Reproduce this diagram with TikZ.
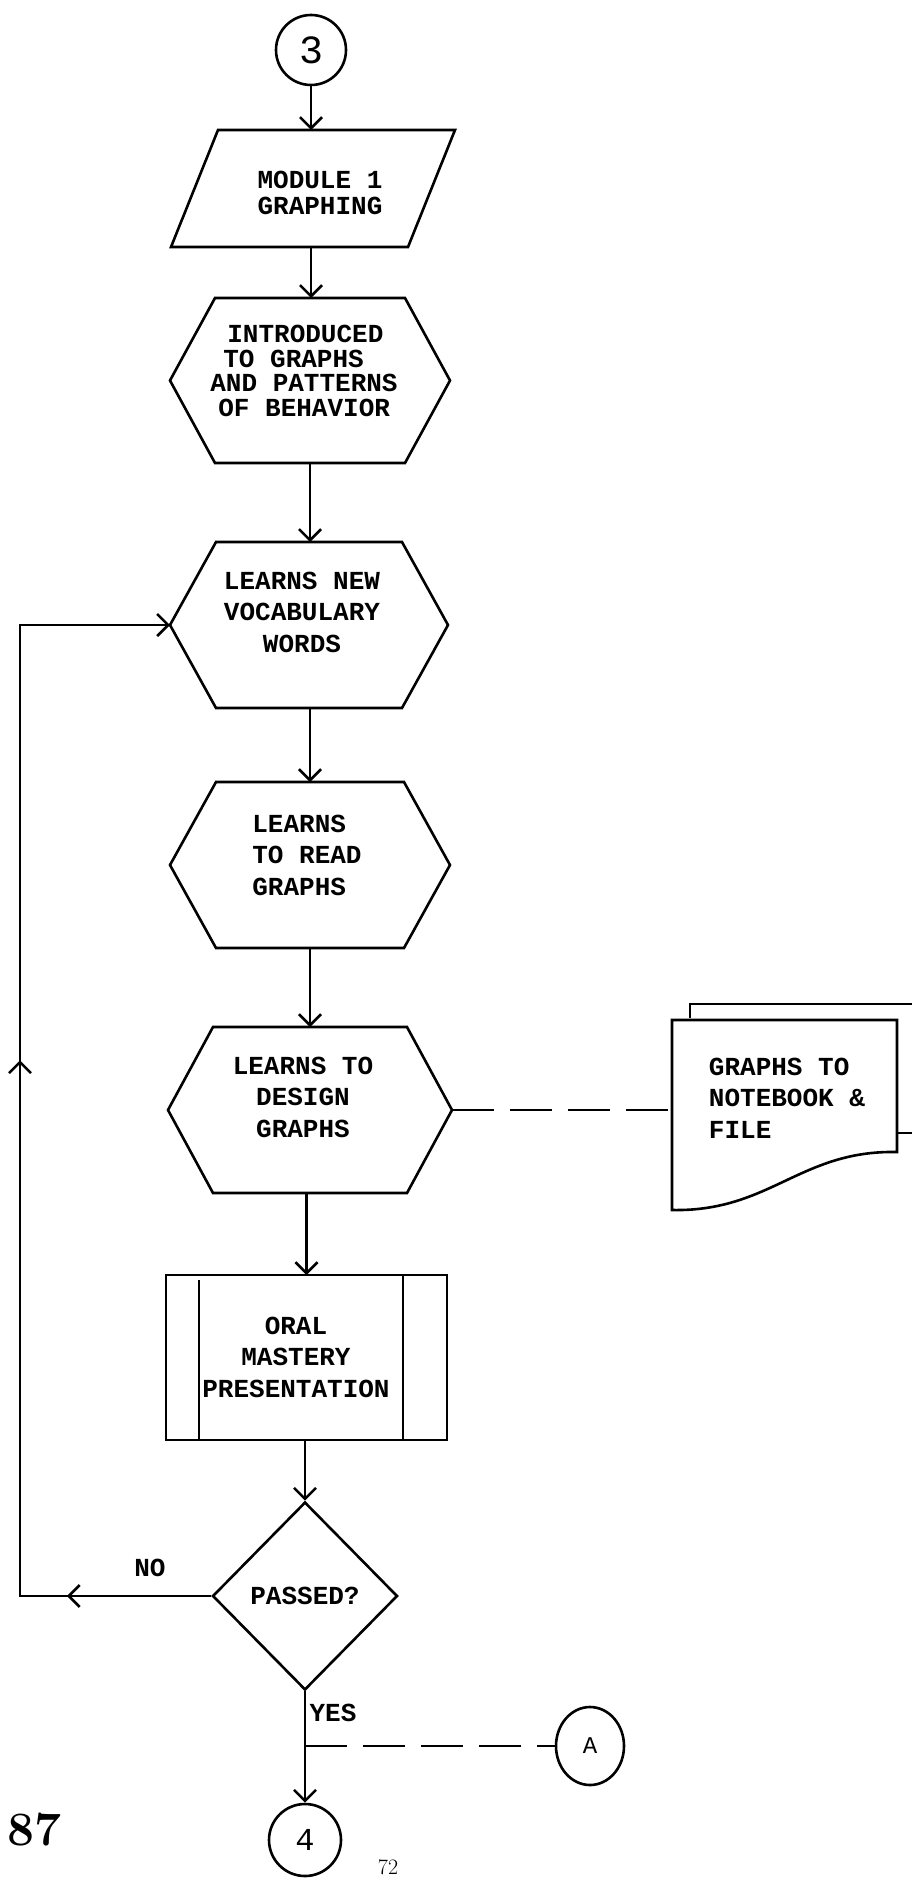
\documentclass[tikz,border=0pt]{standalone}
\usepackage{fontspec}
\setmonofont{Liberation Mono}
\usetikzlibrary{arrows.meta,shapes.geometric,decorations.markings,calc}
\tikzset{
  ln/.style={line width=2.6pt},
  tipstyle/.tip={Straight Barb[length=11pt,width=22pt]},
  arr/.style={ln,-tipstyle},
  frame/.style={draw=none,inner sep=0pt,outer sep=0pt},
  txt/.style={font=\ttfamily\bfseries\fontsize{26}{31.5}\selectfont,inner sep=0pt},
  conn/.style={draw,ln,inner sep=0pt,font=\ttfamily\bfseries\fontsize{26}{30}\selectfont},
  dashline/.style={line width=2pt,dash pattern=on 42pt off 16pt},
}
\newcommand{\hexframe}[2]{%
  \draw[ln] ([xshift=#2]#1.north west) -- ([xshift=-#2]#1.north east) -- (#1.east)
    -- ([xshift=-#2]#1.south east) -- ([xshift=#2]#1.south west) -- (#1.west) -- cycle;}
\begin{document}
\begin{tikzpicture}[x=1pt,y=-1pt]
\fill[white] (0,0) rectangle (911,1878);
\useasboundingbox (0,0) rectangle (911,1878);

% connector 3
\node[conn,circle,minimum size=70pt,font=\ttfamily\fontsize{40}{44}\selectfont] (c3) at (311,50) {3};

% module parallelogram
\node[frame,minimum width=284pt,minimum height=117pt] (mod) at (313,188.5) {};
\draw[ln] ([xshift=47pt]mod.north west) -- (mod.north east) -- ([xshift=-47pt]mod.south east) -- (mod.south west) -- cycle;
\node[txt,align=center,font=\ttfamily\bfseries\fontsize{26}{25.5}\selectfont] (modt) at (320,193) {MODULE 1\\GRAPHING};

% hexagon 1
\node[frame,minimum width=280pt,minimum height=165pt] (h1) at (310,380.5) {};
\hexframe{h1}{45pt}
\node[txt,align=left,font=\ttfamily\bfseries\fontsize{26}{24.5}\selectfont] (h1t) at (304,371)
  {\hspace*{17pt}INTRODUCED\\\hspace*{13pt}TO GRAPHS\\AND PATTERNS\\\hspace*{8pt}OF BEHAVIOR};

% hexagon 2
\node[frame,minimum width=278pt,minimum height=166pt] (h2) at (309,625) {};
\hexframe{h2}{46pt}
\node[txt,align=center] (h2t) at (302,612) {LEARNS NEW\\VOCABULARY\\WORDS};

% hexagon 3
\node[frame,minimum width=280pt,minimum height=166pt] (h3) at (310,865) {};
\hexframe{h3}{46pt}
\node[txt,align=left] (h3t) at (307,855) {LEARNS\\TO READ\\GRAPHS};

% hexagon 4
\node[frame,minimum width=284pt,minimum height=166pt] (h4) at (310,1110) {};
\hexframe{h4}{45pt}
\node[txt,align=center] (h4t) at (303,1097) {LEARNS TO\\DESIGN\\GRAPHS};

% document
\node[frame,minimum width=225pt,minimum height=190pt] (doc) at (784.5,1115) {};
\draw[ln] ($(doc.north west)+(18,-2)$) -- ($(doc.north west)+(18,-16)$) -- ($(doc.north east)+(40,-16)$);
\draw[ln] ($(doc.east)+(0,18)$) -- ($(doc.east)+(40,18)$);
\draw[ln,fill=white] (doc.north west) -- (doc.north east) -- ($(doc.south east)+(0,-58)$)
  .. controls ($(doc.south east)+(-97,-60)$) and ($(doc.south west)+(98,2)$) .. (doc.south west) -- cycle;
\node[txt,align=left] (doct) at (787,1098) {GRAPHS TO\\NOTEBOOK \&\\FILE};

% predefined process
\node[frame,minimum width=281pt,minimum height=165pt] (oral) at (306.5,1357.5) {};
\draw[ln] (oral.north west) rectangle (oral.south east);
\draw[ln] ([xshift=33pt,yshift=-5pt]oral.north west) -- ([xshift=33pt]oral.south west);
\draw[ln] ([xshift=-44pt]oral.north east) -- ([xshift=-44pt]oral.south east);
\node[txt,align=center] (oralt) at (296,1357) {ORAL\\MASTERY\\PRESENTATION};

% decision
\node[draw,ln,diamond,minimum width=185pt,minimum height=188pt,inner sep=0pt,
      font=\ttfamily\bfseries\fontsize{26}{30}\selectfont] (dia) at (305,1596) {PASSED?};

% connectors A and 4
\node[conn,ellipse,minimum width=68pt,minimum height=78pt,font=\ttfamily\fontsize{24}{28}\selectfont] (cA) at (590,1746) {A};
\node[conn,circle,minimum size=72pt,font=\ttfamily\fontsize{32}{36}\selectfont] (c4) at (305,1840) {4};

% labels
\node[txt] (no) at (150,1568) {NO};
\node[txt] (yes) at (333,1713) {YES};
\node[inner sep=0pt,font=\bfseries\fontsize{48}{56}\selectfont] (p87) at (35,1830) {87};
\node[inner sep=0pt,anchor=base,font=\fontsize{22}{26}\selectfont] (p72) at (388,1874) {72};

% main flow
\draw[arr] (c3.south) -- (c3.south |- mod.north);
\draw[arr] (c3.south |- mod.south) -- (c3.south |- h1.north);
\draw[arr] (h1.south) -- (h1.south |- h2.north);
\draw[arr] (h1.south |- h2.south) -- (h1.south |- h3.north);
\draw[arr] (h3.south) -- (h3.south |- h4.north);
\draw[arr] (oral.north |- h4.south) -- (oral.north);
\draw[arr] (dia.north |- oral.south) -- (dia.north);
\draw[arr] (dia.south) -- (dia.south |- c4.north);

% loop back (NO)
\coordinate (lx) at (20,1100);
\draw[arr,decoration={markings,
   mark=at position 0.110 with {\arrow{tipstyle}},
   mark=at position 0.554 with {\arrow{tipstyle}}},postaction={decorate}]
  (dia.west) -- (dia.west -| lx) -- (lx |- h2.west) -- (h2.west);

% dashed annotations
\draw[dashline] (h4.east) -- (doc.west |- h4.east);
\draw[dashline] (dia.south |- cA.west) -- (cA.west);
\end{tikzpicture}
\end{document}
